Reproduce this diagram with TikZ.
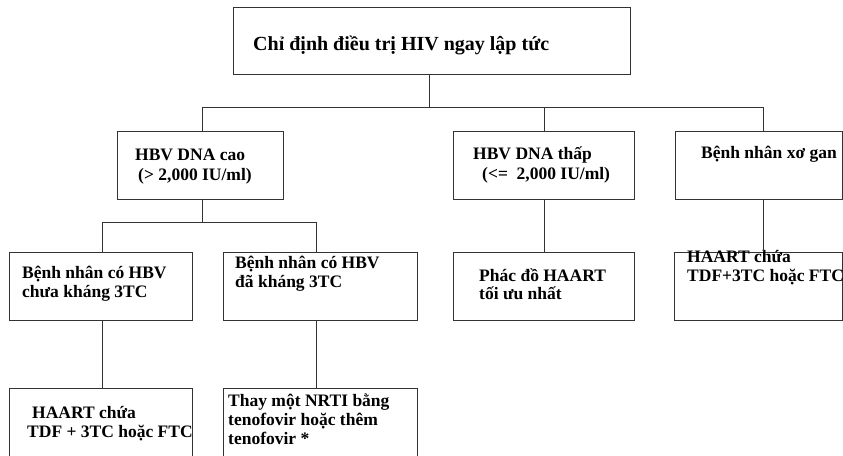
\documentclass[tikz,border=0pt]{standalone}
\usepackage{fontspec}
\setmainfont{Liberation Serif}
\begin{document}
\begin{tikzpicture}[x=1pt,y=-1pt,
  box/.style={draw=black!80, line width=0.9pt, inner sep=0pt, anchor=north west},
  link/.style={draw=black!80, line width=0.9pt},
  txt/.style={anchor=base west, inner sep=0pt, font=\bfseries\fontsize{17.5}{19}\selectfont},
  ttl/.style={anchor=base west, inner sep=0pt, font=\bfseries\fontsize{20}{24}\selectfont}]
\clip (0,0) rectangle (843,455);
\fill[white] (0,0) rectangle (843,455);

% boxes
\node[box, minimum width=397pt, minimum height=67pt] (top) at (233,7) {};
\node[box, minimum width=166pt, minimum height=68pt] (cao) at (117,131) {};
\node[box, minimum width=181pt, minimum height=68pt] (thap) at (453,131) {};
\node[box, minimum width=167pt, minimum height=68pt] (xogan) at (675,131) {};
\node[box, minimum width=183pt, minimum height=68pt] (chua) at (9,252) {};
\node[box, minimum width=194pt, minimum height=68pt] (da) at (223,252) {};
\node[box, minimum width=181pt, minimum height=68pt] (phac) at (453,252) {};
\node[box, minimum width=168pt, minimum height=68pt] (haart2) at (674,252) {};
\node[box, minimum width=183pt, minimum height=90pt] (haart1) at (9,388) {};
\node[box, minimum width=194pt, minimum height=90pt] (thay) at (223,388) {};

% texts
\node[ttl] (t0) at (253,50) {Chỉ định điều trị HIV ngay lập tức};
\node[txt] (t1a) at (135,160) {HBV DNA cao};
\node[txt] (t1b) at (138,180) {(> 2,000 IU/ml)};
\node[txt] (t2a) at (473,159) {HBV DNA thấp};
\node[txt] (t2b) at (482,179) {(<=\ \ 2,000 IU/ml)};
\node[txt] (t3a) at (701,158) {Bệnh nhân xơ gan};
\node[txt] (t4a) at (22,278) {Bệnh nhân có HBV};
\node[txt] (t4b) at (22,297) {chưa kháng 3TC};
\node[txt] (t5a) at (235,268) {Bệnh nhân có HBV};
\node[txt] (t5b) at (235,287) {đã kháng 3TC};
\node[txt] (t6a) at (479,281) {Phác đồ HAART};
\node[txt] (t6b) at (479,299) {tối ưu nhất};
\node[txt] (t7a) at (687,262) {HAART chứa};
\node[txt] (t7b) at (687,281) {TDF+3TC hoặc FTC};
\node[txt] (t8a) at (32,418) {HAART chứa};
\node[txt] (t8b) at (27,437) {TDF + 3TC hoặc FTC};
\node[txt] (t9a) at (228,406) {Thay một NRTI bằng};
\node[txt] (t9b) at (228,425) {tenofovir hoặc thêm};
\node[txt] (t9c) at (228,444) {tenofovir *};

% bus points
\coordinate (busL) at (202,107);
\coordinate (busR) at (763,107);
\coordinate (subL) at (102,222);
\coordinate (subR) at (316,222);

% connectors
\draw[link] (top.south -| 429,0) -- (429,107);
\draw[link] (busL |- cao.north) -- (busL) -- (busR) -- (busR |- xogan.north);
\draw[link] (thap.north) -- (thap.north |- busL);
\draw[link] (busL |- cao.south) -- (busL |- subL);
\draw[link] (subL |- chua.north) -- (subL) -- (subR) -- (subR |- da.north);
\draw[link] (subL |- chua.south) -- (subL |- haart1.north);
\draw[link] (subR |- da.south) -- (subR |- thay.north);
\draw[link] (thap.south) -- (phac.north);
\draw[link] (busR |- xogan.south) -- (busR |- haart2.north);
\end{tikzpicture}
\end{document}
